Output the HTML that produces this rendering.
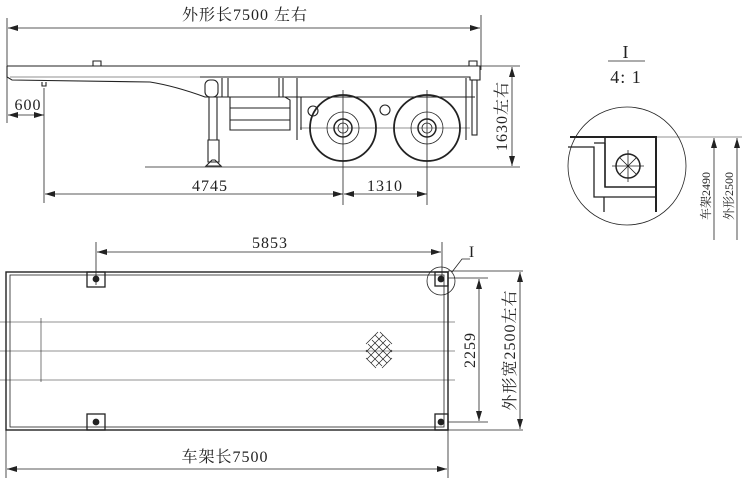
<!DOCTYPE html>
<html><head><meta charset="utf-8"><style>
html,body{margin:0;padding:0;background:#fff;width:750px;height:485px;overflow:hidden}
svg{display:block}
text{font-family:"Liberation Serif","Noto Serif CJK SC",serif;fill:#222}
</style></head><body>
<svg width="750" height="485" viewBox="0 0 750 485" xmlns="http://www.w3.org/2000/svg">
<defs>
<marker id="a" viewBox="0 0 10 6" refX="10" refY="3" markerWidth="10" markerHeight="6" orient="auto-start-reverse" markerUnits="userSpaceOnUse"><path d="M0,0L10,3L0,6z" fill="#222"/></marker>
</defs>
<g stroke="#222" fill="none" stroke-width="0.8">
<line x1="7" y1="18" x2="7" y2="123"/><line x1="481" y1="15" x2="481" y2="70"/>
<line x1="8" y1="28" x2="480" y2="28" marker-start="url(#a)" marker-end="url(#a)"/>
<line x1="44" y1="88" x2="44" y2="203"/>
<line x1="8" y1="115" x2="44" y2="115" marker-start="url(#a)" marker-end="url(#a)"/>
<line x1="45" y1="194" x2="343" y2="194" marker-start="url(#a)" marker-end="url(#a)"/>
<line x1="344" y1="194" x2="427" y2="194" marker-start="url(#a)" marker-end="url(#a)"/>
<line x1="343" y1="90" x2="343" y2="205"/><line x1="427" y1="90" x2="427" y2="205"/>
<line x1="145" y1="167" x2="520" y2="167"/>
<line x1="480" y1="66" x2="520" y2="66"/>
<line x1="512" y1="67" x2="512" y2="166" marker-start="url(#a)" marker-end="url(#a)"/>
<g stroke-width="1.1">
<path d="M7,66 L480,66 L480,80 L470,80 L470,77 L200,77"/>
<path d="M7,66 L7,77 L12,80 L150,82 Q175,86 205,97 L475,97"/>
<line x1="10" y1="77" x2="200" y2="77" stroke-width="0.6"/>
<path d="M93,66 v-5 h8 v5"/><path d="M469,66 v-5 h8 v5"/>
<path d="M42,82 v4 h4 v-4"/>
<rect x="205" y="80" width="13" height="17" rx="5"/>
<line x1="222" y1="78" x2="222" y2="97"/>
<line x1="228" y1="78" x2="228" y2="97"/><line x1="279" y1="78" x2="279" y2="97"/><line x1="283" y1="78" x2="283" y2="97"/><line x1="297" y1="78" x2="297" y2="140"/>
<path d="M230,97 v33 h60 v-30 l-5,-3"/><line x1="230" y1="108" x2="290" y2="108"/><line x1="230" y1="120" x2="290" y2="120"/>
<path d="M209,97 V140 M217,97 V140 M208,140 h11 v22 h-11z M206,166 l6,-6 h3 l6,6 z"/>
<line x1="466" y1="78" x2="466" y2="140"/>
<rect x="472" y="80" width="5" height="55"/>
<circle cx="313" cy="111" r="5"/><circle cx="385" cy="110" r="5"/>
<line x1="301" y1="97" x2="301" y2="130"/>
</g>
<g stroke-width="1.8"><circle cx="343" cy="128" r="33"/><circle cx="427" cy="128" r="33"/></g>
<circle cx="343" cy="128" r="16"/><circle cx="427" cy="128" r="16"/>
<circle cx="343" cy="128" r="9" stroke-width="1.5"/><circle cx="427" cy="128" r="9" stroke-width="1.5"/>
<circle cx="343" cy="128" r="5"/><circle cx="427" cy="128" r="5"/>
<line x1="300" y1="128" x2="470" y2="128" stroke-width="0.5"/>
<line x1="608" y1="61" x2="645" y2="61"/>
<circle cx="627" cy="166" r="59"/>
<path d="M570,137 H656 V212" stroke-width="2"/>
<rect x="605" y="137" width="51" height="50" stroke-width="1.5"/>
<path d="M568,147 H594 V197 H656 M594,143 H605 M605,187 V143 M604,197 V212" stroke-width="1.3"/>
<circle cx="628" cy="166" r="12" stroke-width="1.5"/>
<path d="M620,158 L636,174 M636,158 L620,174 M612,166 H644 M628,150 V182" stroke-width="0.8"/>
<line x1="656" y1="137" x2="742" y2="137" stroke-width="0.6"/>
<line x1="714" y1="240" x2="714" y2="138" marker-end="url(#a)"/>
<line x1="737" y1="240" x2="737" y2="138" marker-end="url(#a)"/>
<rect x="6" y="272" width="442" height="158" stroke-width="1.4"/>
<rect x="10" y="275" width="434" height="152" stroke-width="0.8"/>
<g stroke-width="1.3">
<rect x="87" y="272" width="18" height="15"/><rect x="87" y="414" width="18" height="16"/>
<rect x="435" y="272" width="13" height="14"/><rect x="435" y="414" width="13" height="16"/>
</g>
<g fill="#222"><circle cx="96" cy="279" r="3"/><circle cx="96" cy="422" r="3"/><circle cx="441" cy="279" r="3"/><circle cx="441" cy="422" r="3"/></g>
<line x1="0" y1="322" x2="455" y2="322" stroke-width="0.6"/>
<line x1="0" y1="351" x2="455" y2="351" stroke-width="0.6"/>
<line x1="0" y1="380" x2="455" y2="380" stroke-width="0.6"/>
<line x1="41" y1="318" x2="41" y2="382" stroke-width="0.6"/>
<g stroke-width="0.7">
<path d="M366,344 l12,-12 M366,352 l17,-17 M367,359 l19,-19 M371,363 l19,-19 M376,366 l16,-16 M382,368 l10,-10"/>
<path d="M392,344 l-12,-12 M392,352 l-17,-17 M391,359 l-19,-19 M387,363 l-19,-19 M382,366 l-16,-16 M376,368 l-10,-10"/>
</g>
<line x1="96" y1="242" x2="96" y2="285"/><line x1="442" y1="242" x2="442" y2="282"/>
<line x1="97" y1="252" x2="441" y2="252" marker-start="url(#a)" marker-end="url(#a)"/>
<circle cx="441" cy="281" r="14"/>
<path d="M452,272 L462,259 H470"/>
<line x1="448" y1="278" x2="488" y2="278"/><line x1="448" y1="422" x2="488" y2="422"/>
<line x1="479" y1="279" x2="479" y2="421" marker-start="url(#a)" marker-end="url(#a)"/>
<line x1="448" y1="271" x2="523" y2="271"/><line x1="448" y1="430" x2="523" y2="430"/>
<line x1="520" y1="272" x2="520" y2="429" marker-start="url(#a)" marker-end="url(#a)"/>
<line x1="6" y1="430" x2="6" y2="478"/><line x1="448" y1="430" x2="448" y2="478"/>
<line x1="7" y1="469" x2="447" y2="469" marker-start="url(#a)" marker-end="url(#a)"/>
</g>
<g font-size="16" letter-spacing="1">
<text x="245" y="20" text-anchor="middle">外形长7500 左右</text>
<text x="28" y="110" text-anchor="middle">600</text>
<text x="210" y="191" text-anchor="middle">4745</text>
<text x="385" y="191" text-anchor="middle">1310</text>
<text transform="translate(507,116) rotate(-90)" text-anchor="middle">1630左右</text>
<text x="626" y="58" text-anchor="middle" font-size="18">I</text>
<text x="626" y="83" text-anchor="middle" font-size="18">4: 1</text>
<text x="270" y="248" text-anchor="middle">5853</text>
<text x="472" y="257" text-anchor="middle">I</text>
<text transform="translate(475,350) rotate(-90)" text-anchor="middle">2259</text>
<text transform="translate(515,350) rotate(-90)" text-anchor="middle">外形宽2500左右</text>
<text x="225" y="462" text-anchor="middle">车架长7500</text>
</g>
<g font-size="12">
<text transform="translate(710,196) rotate(-90)" text-anchor="middle">车架2490</text>
<text transform="translate(733,196) rotate(-90)" text-anchor="middle">外形2500</text>
</g>
</svg>
</body></html>
